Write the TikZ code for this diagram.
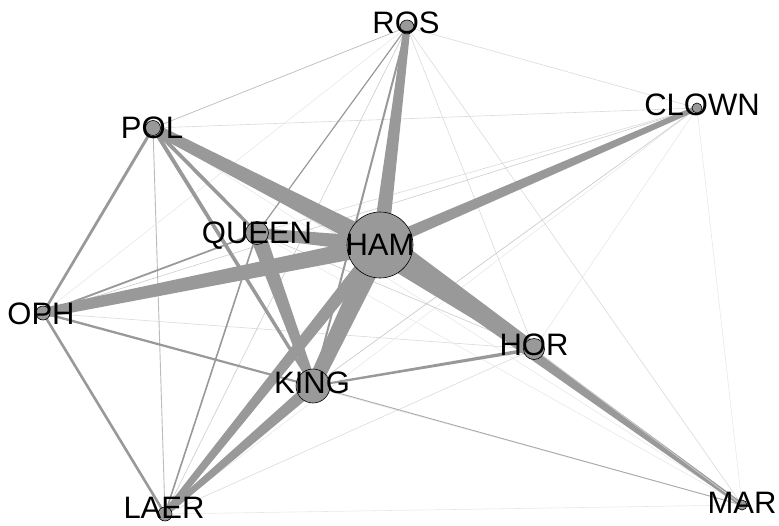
\documentclass[tikz,border=0pt]{standalone}
\usepackage{fontspec}
\setmainfont{Liberation Sans}
\usetikzlibrary{calc,backgrounds}
\definecolor{linkA}{RGB}{153,153,153}
\definecolor{linkB}{RGB}{170,170,170}
\definecolor{linkC}{RGB}{187,187,187}
\definecolor{linkD}{RGB}{204,204,204}
\definecolor{linkE}{RGB}{218,218,218}
\definecolor{linkF}{RGB}{232,232,232}

\begin{document}
\begin{tikzpicture}
    [
        x=1pt, y=-1pt,
        actor/.style={circle, draw=black, line width=0.6pt, fill=linkA, inner sep=0pt},
        actorname/.style={font=\fontsize{31}{31}\selectfont, inner sep=0pt, anchor=base}
    ]
    \useasboundingbox (0,0) rectangle (779,525);
%    \draw[help lines, step=50] (0,0) grid (779,525);

    \foreach \n/\t/\x/\y/\d/\lx/\ly in {ros/ROS/407/27/14/406/33, clown/CLOWN/697/108/10/702/115,
        pol/POL/153/128/15/152/138, queen/QUEEN/257/233/23/257/243, ham/HAM/380/245/66/380/255,
        oph/OPH/43/313/14/41/324, hor/HOR/534/349/21/534/355, king/KING/313/386/34/312/393,
        laer/LAER/165/514/14/164/518, mar/MAR/742/505/10/742/513}
    {
        \node[actor, minimum size=\d pt] (\n) at (\x,\y) {};
        \node[actorname] (\n-name) at (\lx,\ly) {\t};
    }

    \begin{pgfonlayer}{background}
    % wide end at the first actor, narrow end at the second
    \foreach \a/\b/\wa/\wb/\c in {
        ros/oph/0.3pt/0.3pt/linkF, hor/clown/0.3pt/0.3pt/linkF, clown/mar/0.3pt/0.3pt/linkF,
        laer/mar/0.3pt/0.3pt/linkF, laer/clown/0.3pt/0.3pt/linkF, pol/mar/0.3pt/0.3pt/linkF,
        queen/mar/0.3pt/0.3pt/linkF, oph/mar/0.3pt/0.3pt/linkF, oph/hor/0.3pt/0.3pt/linkE,
        ros/mar/0.3pt/0.3pt/linkE, ros/clown/0.3pt/0.3pt/linkE, ros/hor/0.3pt/0.3pt/linkE,
        pol/hor/0.3pt/0.3pt/linkE, laer/hor/0.3pt/0.3pt/linkE, pol/clown/0.3pt/0.3pt/linkE,
        queen/clown/0.3pt/0.3pt/linkE, ros/laer/0.3pt/0.3pt/linkD, oph/clown/0.3pt/0.3pt/linkD,
        queen/hor/0.3pt/0.3pt/linkD, king/clown/0.35pt/0.35pt/linkD, pol/ros/0.35pt/0.35pt/linkC,
        pol/laer/0.45pt/0.45pt/linkC, king/mar/0.45pt/0.45pt/linkB,
        ros/queen/0.6pt/0.6pt/linkA, queen/laer/0.8pt/0.8pt/linkA, oph/queen/1pt/0.8pt/linkA,
        ros/king/1pt/1pt/linkA, hor/king/1.8pt/1pt/linkA, oph/king/1.2pt/1pt/linkA,
        oph/laer/1.3pt/1.3pt/linkA, pol/oph/1.5pt/1.3pt/linkA, pol/queen/2pt/1.6pt/linkA,
        pol/king/2pt/1.6pt/linkA, king/laer/6pt/2.5pt/linkA, queen/king/8pt/4pt/linkA,
        ham/mar/7pt/2pt/linkA, ham/clown/6pt/2.5pt/linkA, ham/laer/7pt/3pt/linkA,
        ham/oph/9pt/5pt/linkA, ham/queen/8pt/5pt/linkA, ham/pol/10pt/5pt/linkA,
        ham/ros/8pt/3.5pt/linkA, ham/king/11pt/7pt/linkA, ham/hor/15pt/6pt/linkA,
        hor/mar/0.4pt/0.4pt/linkD}
    {
        \fill[\c] ($(\a)!\wa!90:(\b)$) -- ($(\b)!\wb!-90:(\a)$)
            -- ($(\b)!\wb!90:(\a)$) -- ($(\a)!\wa!-90:(\b)$) -- cycle;
    }
    \end{pgfonlayer}
\end{tikzpicture}
\end{document}
